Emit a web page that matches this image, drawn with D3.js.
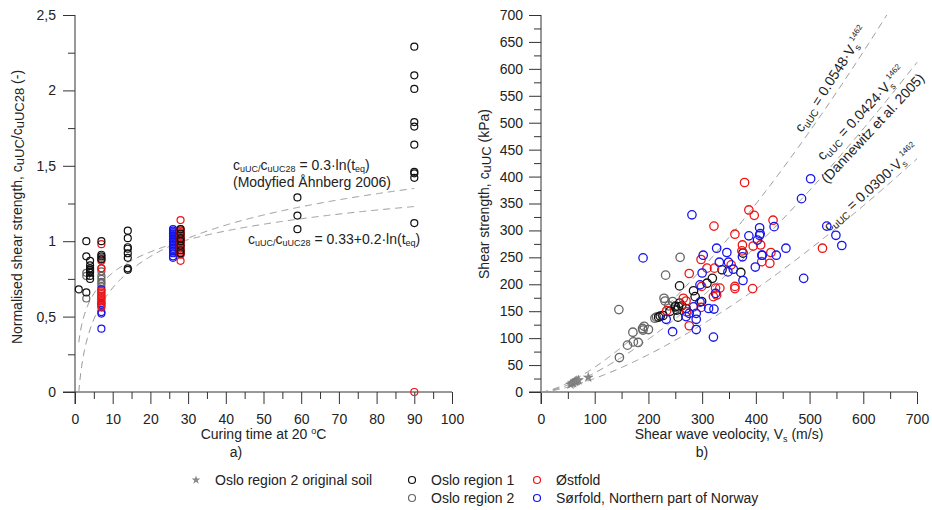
<!DOCTYPE html>
<html>
<head>
<meta charset="utf-8">
<script src="https://cdn.jsdelivr.net/npm/d3@7"></script>
<style>
  body { margin: 0; background: #fff; }
  svg { font-family: "Liberation Sans", Arial, sans-serif; }
</style>
</head>
<body>
<div id="vis"></div>
<script>
const FRAME_WIDTH = 932;
const FRAME_HEIGHT = 510;

// ---- data: a) normalised strength vs curing time [t (days), cuUC/cuUC28]
const leftOslo1 = [[1,0.68],[3,1.0],[3,0.9],[3,0.66],[4,0.87],[4,0.84],[4,0.82],[4,0.81],[4,0.80],[4,0.79],[4,0.77],[4,0.75],
  [7,1.0],[7,0.91],[7,0.9],[7,0.88],
  [14,1.07],[14,1.02],[14,0.96],[14,0.95],[14,0.92],[14,0.89],[14,0.82],[14,0.81],
  [28,1.08],[28,1.05],[28,1.02],[28,1.0],[28,0.97],[28,0.94],[28,0.92],
  [59,1.29],[59,1.17],[59,1.08],
  [90,2.29],[90,2.1],[90,2.01],[90,1.79],[90,1.76],[90,1.64],[90,1.46],[90,1.45],[90,1.42],[90,1.12]];
const leftOslo2 = [[3,0.79],[3,0.77],[3,0.62],[7,0.89],[7,0.82],[7,0.80],[7,0.77],[7,0.75],[7,0.73],[7,0.72],[7,0.70],
  [26,1.05],[26,1.0],[26,0.95]];
const leftSorfold = [[7,0.68],[7,0.59],[7,0.58],[7,0.53],[7,0.52],[7,0.42],
  [26,1.08],[26,1.07],[26,1.06],[26,1.05],[26,1.04],[26,1.03],[26,1.02],[26,1.01],[26,1.0],[26,0.99],
  [26,0.98],[26,0.97],[26,0.96],[26,0.95],[26,0.94],[26,0.93],[26,0.92],[26,0.90],[26,0.89]];
const leftOstfold = [[7,0.98],[7,0.88],[7,0.87],[7,0.82],[7,0.67],[7,0.66],[7,0.65],[7,0.64],[7,0.63],[7,0.62],
  [7,0.61],[7,0.60],[7,0.57],[7,0.56],
  [28,1.14],[28,1.08],[28,1.07],[28,1.06],[28,1.05],[28,1.04],[28,1.03],[28,1.02],[28,1.01],[28,1.0],
  [28,0.99],[28,0.98],[28,0.97],[28,0.96],[28,0.95],[28,0.94],[28,0.93],[28,0.92],[28,0.91],[28,0.87],
  [90,0]];
// fitted curves: a + b*ln(t)
const leftFits = [[0, 0.3], [0.33, 0.2]];
const leftYTicks = [0, 0.5, 1, 1.5, 2, 2.5];

// ---- data: b) shear strength vs shear wave velocity [Vs (m/s), cuUC (kPa)]
const rightOriginal = [[55,14],[58,16],[60,17],[63,19],[65,20],[67,21],[70,22],[88,27]];
const rightOslo2 = [[145,153],[146,64],[161,87],[171,111],[172,93],[181,92],[189,118],[192,122],[200,116],[190,115],
  [212,137],[215,139],[229,174],[231,169],[232,217],[245,168],[259,250],[238,160],[250,160]];
const rightOslo1 = [[219,139],[222,141],[227,142],[240,150],[250,158],[253,152],[256,158],[258,165],[255,139],[258,197],
  [284,188],[287,177],[299,168],[309,202],[319,211],[337,227],[372,222],[376,258],[262,160],[270,155]];
const rightOstfold = [[379,389],[387,338],[397,328],[322,308],[361,293],[375,273],[374,262],[395,271],[409,273],[432,319],
  [428,259],[411,242],[426,239],[394,192],[361,196],[361,192],[354,236],[323,230],[309,230],[298,246],[299,196],
  [276,220],[265,174],[270,169],[325,193],[333,193],[321,177],[327,180],[298,157],[271,149],[276,123],[234,151],[524,267]];
const rightSorfold = [[281,329],[190,249],[302,254],[327,267],[332,241],[346,259],[349,241],[358,228],[348,223],[375,251],
  [387,290],[407,305],[403,282],[407,291],[399,232],[412,254],[434,307],[438,254],[376,207],[300,221],[296,199],
  [296,167],[284,158],[270,140],[276,146],[289,146],[289,135],[289,116],[245,112],[233,135],[312,155],[322,154],
  [321,102],[325,183],[502,396],[485,359],[456,267],[411,254],[532,308],[549,291],[560,272],[489,211],[408,294]];
// power laws: a * Vs^1.462
const rightFits = [0.0548, 0.0424, 0.0300];
const rightExp = 1.462;

const COL = {oslo1: "#111", oslo2: "#666", ost: "#ee1515", sor: "#1515ee", star: "#888"};

const svg = d3.select("#vis").append("svg")
  .attr("width", FRAME_WIDTH).attr("height", FRAME_HEIGHT);

const LEFT = {x: 75, y: 15, w: 377, h: 377};
const RIGHT = {x: 541, y: 15, w: 376, h: 377};

const X1 = d3.scaleLinear().domain([0, 100]).range([0, LEFT.w]);
const Y1 = d3.scaleLinear().domain([0, 2.5]).range([LEFT.h, 0]);
const X2 = d3.scaleLinear().domain([0, 700]).range([0, RIGHT.w]);
const Y2 = d3.scaleLinear().domain([0, 700]).range([RIGHT.h, 0]);

const G1 = svg.append("g").attr("transform", `translate(${LEFT.x},${LEFT.y})`);
const G2 = svg.append("g").attr("transform", `translate(${RIGHT.x},${RIGHT.y})`);

function styleAxis(a) {
  a.select(".domain").remove();
  a.attr("font-size", 14).attr("font-family", null);
  a.selectAll("line").attr("stroke", "#333");
  a.selectAll("text").attr("fill", "#222");
}

function drawAxes(g, box, x, y, xMajor, xMinor, yMajor, yMinor, yFmt, yPad) {
  g.append("g").attr("transform", `translate(0,${box.h})`)
    .call(d3.axisBottom(x).tickValues(xMinor).tickSize(7).tickFormat("")).call(styleAxis);
  g.append("g").attr("transform", `translate(0,${box.h})`)
    .call(d3.axisBottom(x).tickValues(xMajor).tickSize(12).tickPadding(10)).call(styleAxis);
  g.append("g")
    .call(d3.axisLeft(y).tickValues(yMinor).tickSize(7).tickFormat("")).call(styleAxis);
  g.append("g")
    .call(d3.axisLeft(y).tickValues(yMajor).tickSize(12).tickPadding(yPad).tickFormat(yFmt)).call(styleAxis);
  // axis lines (extended by one tick length, like the original)
  g.append("line").attr("x1", -12).attr("x2", box.w).attr("y1", box.h).attr("y2", box.h).attr("stroke", "#333");
  g.append("line").attr("x1", 0).attr("x2", 0).attr("y1", 0).attr("y2", box.h + 12).attr("stroke", "#333");
}

drawAxes(G1, LEFT, X1, Y1, d3.range(0, 101, 10), d3.range(5, 100, 10),
  leftYTicks, [0.25, 0.75, 1.25, 1.75, 2.25], d => String(d).replace(".", ","), 7);
drawAxes(G2, RIGHT, X2, Y2, d3.range(0, 701, 100), d3.range(50, 700, 100),
  d3.range(0, 701, 50), d3.range(25, 700, 50), d => d, 6);

// text with sub/superscripts: parts = [text, size, dy]
function richText(g, x, y, parts, opts = {}) {
  const t = g.append("text")
    .attr("transform", `translate(${x},${y})` + (opts.rotate ? ` rotate(${opts.rotate})` : ""))
    .attr("font-size", 14).attr("fill", "#222")
    .attr("text-anchor", opts.anchor || "start");
  parts.forEach(p => t.append("tspan").attr("font-size", p[1]).attr("dy", p[2] || 0).text(p[0]));
  return t;
}

// ---- a) fitted curves
const tSamples = d3.range(1, 90.001, 0.25);
leftFits.forEach(f => {
  G1.append("path")
    .attr("d", d3.line().x(t => X1(t)).y(t => Y1(f[0] + f[1] * Math.log(t)))(tSamples))
    .attr("fill", "none").attr("stroke", "#999").attr("stroke-width", 1).attr("stroke-dasharray", "7,5");
});

function leftPoints(data, color) {
  G1.selectAll(null).data(data).enter().append("circle")
    .attr("cx", d => X1(d[0])).attr("cy", d => Y1(d[1])).attr("r", 3.5)
    .attr("fill", "none").attr("stroke", color).attr("stroke-width", 1.2);
}
leftPoints(leftOslo2, COL.oslo2);
leftPoints(leftSorfold, COL.sor);
leftPoints(leftOstfold, COL.ost);
leftPoints(leftOslo1, COL.oslo1);

richText(G1, X1(41.9), Y1(1.472), [["c", 14], ["uUC/", 9, 2], ["c", 14, -2], ["uUC28", 9, 2],
  [" = 0.3·ln(t", 14, -2], ["eq", 9, 2], [")", 14, -2]]);
richText(G1, X1(41.9), Y1(1.36), [["(Modyfied Åhnberg 2006)", 14]]);
richText(G1, X1(45.9), Y1(0.98), [["c", 14], ["uUC/", 9, 2], ["c", 14, -2], ["uUC28", 9, 2],
  [" = 0.33+0.2·ln(t", 14, -2], ["eq", 9, 2], [")", 14, -2]]);

// ---- b) power-law curves
rightFits.forEach(a => {
  const vMax = Math.min(700, Math.pow(700 / a, 1 / rightExp));
  const vs = d3.range(0, vMax, 2).concat([vMax]);
  G2.append("path")
    .attr("d", d3.line().x(v => X2(v)).y(v => Y2(a * Math.pow(v, rightExp)))(vs))
    .attr("fill", "none").attr("stroke", "#999").attr("stroke-width", 1).attr("stroke-dasharray", "7,5");
});

G2.selectAll(null).data(rightOriginal).enter().append("path")
  .attr("d", d3.symbol(d3.symbolStar, 28))
  .attr("transform", d => `translate(${X2(d[0])},${Y2(d[1])})`)
  .attr("fill", COL.star).attr("stroke", "#777").attr("stroke-width", 0.5);

function rightPoints(data, color) {
  G2.selectAll(null).data(data).enter().append("circle")
    .attr("cx", d => X2(d[0])).attr("cy", d => Y2(d[1])).attr("r", 4.2)
    .attr("fill", "none").attr("stroke", color).attr("stroke-width", 1.3);
}
rightPoints(rightOslo2, COL.oslo2);
rightPoints(rightOslo1, COL.oslo1);
rightPoints(rightOstfold, COL.ost);
rightPoints(rightSorfold, COL.sor);

richText(G2, X2(486), Y2(481), [["c", 14], ["uUC", 10, 3], [" = 0.0548·V", 14, -3], ["s", 9, 3], ["1462", 8, -10]],
  {rotate: -57});
richText(G2, X2(525), Y2(429), [["c", 14], ["uUC", 10, 3], [" = 0.0424·V", 14, -3], ["s", 9, 3], ["1462", 8, -10]],
  {rotate: -47});
richText(G2, X2(532.6), Y2(386), [["(Dannewitz et al. 2005)", 14]], {rotate: -47});
richText(G2, X2(536), Y2(297), [["c", 14], ["uUC", 10, 3], [" = 0.0300·V", 14, -3], ["s", 9, 3], ["1462", 8, -10]],
  {rotate: -42});

// ---- axis titles
richText(svg, 22, 207, [["Normalised shear strength, c", 14], ["uUC", 13, 2], ["/c", 14, -2], ["uUC28", 13, 2], [" (-)", 14, -2]],
  {rotate: -90, anchor: "middle"});
richText(svg, 489, 194, [["Shear strength, c", 14], ["uUC", 13, 2], [" (kPa)", 14, -2]],
  {rotate: -90, anchor: "middle"});
richText(svg, 263.5, 439, [["Curing time at 20 ", 14], ["o", 9, -5], ["C", 14, 5]], {anchor: "middle"});
richText(svg, 729, 439, [["Shear wave veolocity, V", 14], ["s", 9, 3], [" (m/s)", 14, -3]], {anchor: "middle"});
richText(svg, 236, 457, [["a)", 14]], {anchor: "middle"});
richText(svg, 702, 457, [["b)", 14]], {anchor: "middle"});

// ---- legend
const legendItems = [
  {label: "Oslo region 2 original soil", color: COL.star, star: true, x: 196, y: 480},
  {label: "Oslo region 1", color: COL.oslo1, x: 412, y: 480},
  {label: "Oslo region 2", color: COL.oslo2, x: 412, y: 498},
  {label: "Østfold", color: COL.ost, x: 537, y: 480},
  {label: "Sørfold, Northern part of Norway", color: COL.sor, x: 537, y: 498}
];
const LEG = svg.append("g");
legendItems.forEach(d => {
  if (d.star) {
    LEG.append("path").attr("d", d3.symbol(d3.symbolStar, 24))
      .attr("transform", `translate(${d.x},${d.y})`).attr("fill", d.color);
  } else {
    LEG.append("circle").attr("cx", d.x).attr("cy", d.y).attr("r", 3.5)
      .attr("fill", "none").attr("stroke", d.color).attr("stroke-width", 1.2);
  }
  LEG.append("text").attr("x", d.x + 19).attr("y", d.y + 5)
    .attr("font-size", 14).attr("fill", "#222").text(d.label);
});
</script>
</body>
</html>
